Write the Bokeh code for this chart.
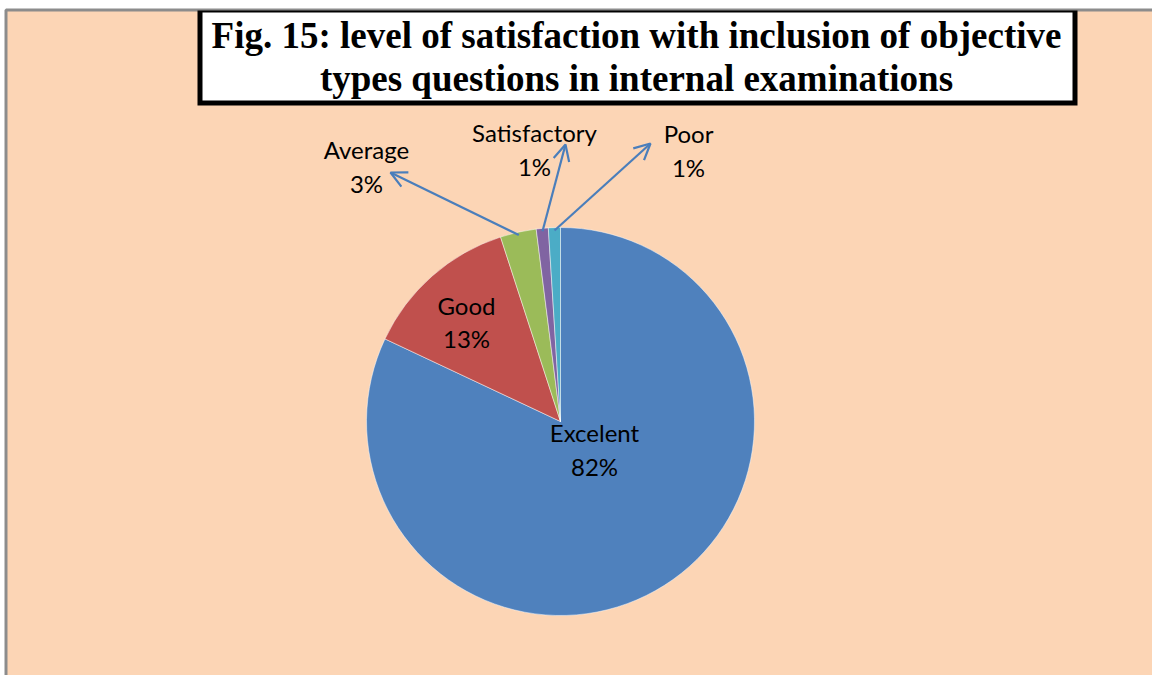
import numpy as np
from bokeh.plotting import figure
from bokeh.models import Range1d, Arrow, OpenHead, ColumnDataSource
from bokeh.core.properties import value
from bokeh.embed import file_html
from bokeh.resources import INLINE

# ---- data ----
categories = ["Excelent", "Good", "Average", "Satisfactory", "Poor"]
percent = [82, 13, 3, 1, 1]
colors = ["#4F81BD", "#C0504D", "#9BBB59", "#8064A2", "#4BACC6"]
title_lines = ["Fig. 15: level of satisfaction with inclusion of objective",
               "types questions in internal examinations"]

# ---- layout (reference pixel coordinates) ----
PAGE_W, PAGE_H = 1152, 675
def Y(ry):
    return PAGE_H - ry

cx, cy, R = 560, Y(421), 194
label_pos = {  # name centre x, name centre y, percent centre y (ref px)
    "Excelent": (594, 432, 466),
    "Good": (466, 305, 338),
    "Average": (366, 149, 183),
    "Satisfactory": (534, 132, 166),
    "Poor": (688, 133, 167),
}
arrow_heads = {"Average": (390, 172), "Satisfactory": (565, 144), "Poor": (650, 143)}

p = figure(width=PAGE_W, height=PAGE_H, x_range=Range1d(0, PAGE_W), y_range=Range1d(0, PAGE_H),
           output_backend="svg", toolbar_location=None, min_border=0)
p.axis.visible = False
p.grid.visible = False
p.outline_line_color = None
bg = "#FCD5B5"
p.background_fill_color = "#ffffff"
p.border_fill_color = "#ffffff"

# chart area with grey frame
p.quad(left=[5.5], right=[PAGE_W + 20], top=[Y(9.5)], bottom=[-20], fill_color=bg,
       line_color="#8C8C8C", line_width=3)

# ---- pie ----
vals = np.array(percent, dtype=float)
frac = vals / vals.sum()
cum_end = np.cumsum(frac)
cum_start = cum_end - frac
start = np.pi / 2 - 2 * np.pi * cum_end
end = np.pi / 2 - 2 * np.pi * cum_start
src = ColumnDataSource(dict(start=start, end=end, color=colors, cat=categories))
p.wedge(x=cx, y=cy, radius=R, start_angle="start", end_angle="end", direction="anticlock",
        fill_color="color", line_color="#ffffff", line_alpha=0.6, line_width=0.8, source=src)

# ---- labels ----
lx, ly1, ly2, names, pcts = [], [], [], [], []
for c, v in zip(categories, percent):
    x, a, b = label_pos[c]
    lx.append(x); ly1.append(Y(a)); ly2.append(Y(b))
    names.append(c); pcts.append(f"{v}%")
lab = ColumnDataSource(dict(x=lx, y1=ly1, y2=ly2, n=names, pc=pcts))
for ycol, tcol in (("y1", "n"), ("y2", "pc")):
    p.text(x="x", y=ycol, text=tcol, source=lab, text_align="center", text_baseline="middle",
           text_font=value("Lato"), text_font_size="24px", text_color="#000000")

# ---- leader arrows ----
mid = np.pi / 2 - 2 * np.pi * (cum_start + frac / 2)
for i, c in enumerate(categories):
    if c in arrow_heads:
        hx, hy = arrow_heads[c]
        tx = cx + 0.985 * R * np.cos(mid[i])
        ty = cy + 0.985 * R * np.sin(mid[i])
        p.add_layout(Arrow(end=OpenHead(size=16, line_color="#4A7EBB", line_width=2.2),
                           x_start=tx, y_start=ty, x_end=hx, y_end=Y(hy),
                           line_color="#4A7EBB", line_width=2.2))

# ---- title box ----
p.quad(left=[197], right=[1077], top=[Y(10)], bottom=[Y(105)], fill_color="#000000", line_color=None)
p.quad(left=[202], right=[1072], top=[Y(12)], bottom=[Y(100)], fill_color="#ffffff", line_color=None)
p.text(x=[636, 636], y=[Y(35), Y(78)], text=title_lines, text_align="center", text_baseline="middle",
       text_font=value("Liberation Serif"), text_font_style="bold", text_font_size="37px",
       text_color="#000000")

open("out.html", "w").write(file_html(p, INLINE))
